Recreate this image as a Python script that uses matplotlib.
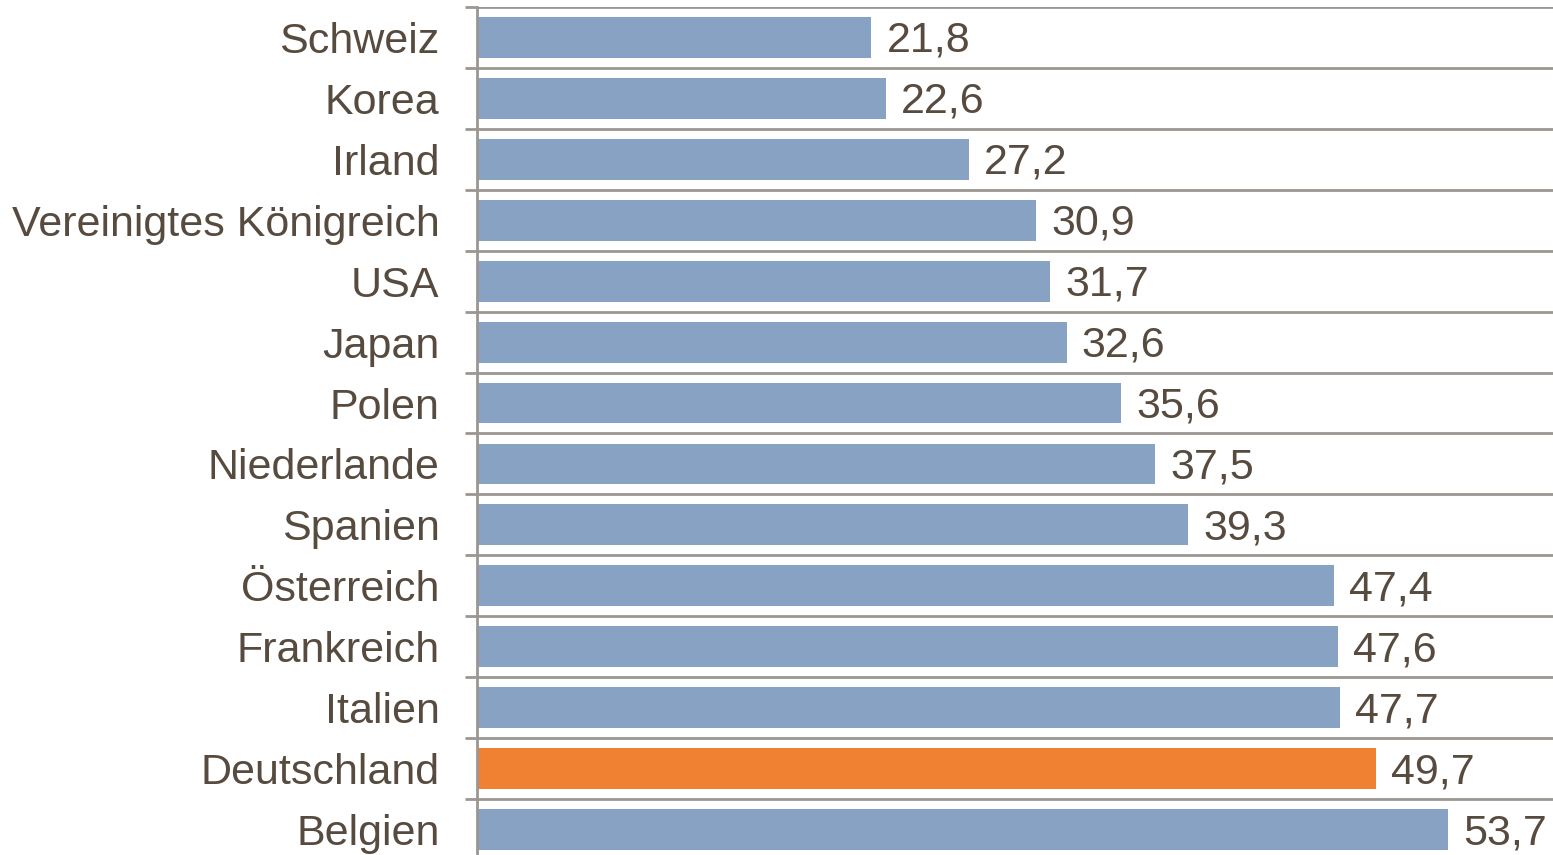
import numpy as np
import matplotlib.pyplot as plt
from matplotlib.ticker import FixedLocator, NullFormatter

countries = ['Schweiz', 'Korea', 'Irland', 'Vereinigtes Königreich', 'USA', 'Japan',
             'Polen', 'Niederlande', 'Spanien', 'Österreich', 'Frankreich', 'Italien',
             'Deutschland', 'Belgien']
values = [21.8, 22.6, 27.2, 30.9, 31.7, 32.6, 35.6, 37.5, 39.3, 47.4, 47.6, 47.7, 49.7, 53.7]
highlight = 'Deutschland'

blue = '#87a2c2'
orange = '#f08133'
grid_col = '#9b9691'
text_col = '#574b40'

plt.rcParams['font.family'] = ['Liberation Sans', 'DejaVu Sans']

fig = plt.figure(figsize=(15.53, 8.55), dpi=100)
# row height ~60.9 px, top line at 7 px
ax = fig.add_axes([477 / 1553, 1 - 860 / 855, 1 - 477 / 1553, 853 / 855])

y = np.arange(len(countries))
colors = [orange if c == highlight else blue for c in countries]
ax.barh(y, values, height=0.67, color=colors, zorder=2)

for yi, v in zip(y, values):
    ax.annotate(f'{v:.1f}'.replace('.', ','), (v, yi), xytext=(11, -2.5),
                textcoords='offset points', va='center', ha='left',
                fontsize=31, color=text_col)

ax.set_xlim(0, 59.5)
ax.set_ylim(len(countries) - 0.5, -0.5)

# row separators as major ticks + grid, labels on minor ticks
ax.yaxis.set_major_locator(FixedLocator(np.arange(-0.5, len(countries), 1.0)))
ax.yaxis.set_major_formatter(NullFormatter())
ax.yaxis.set_minor_locator(FixedLocator(y))
ax.set_yticklabels(countries, minor=True, fontsize=31, color=text_col)
ax.tick_params(axis='y', which='major', length=9, width=2, color=grid_col, direction='out')
ax.tick_params(axis='y', which='minor', length=0, pad=27)
ax.grid(axis='y', which='major', color=grid_col, linewidth=2, zorder=1)
ax.set_axisbelow(True)

ax.set_xticks([])
for s in ['top', 'right', 'bottom']:
    ax.spines[s].set_visible(False)
ax.spines['left'].set_color(grid_col)
ax.spines['left'].set_linewidth(2)

fig.savefig('out.png', dpi=100)
